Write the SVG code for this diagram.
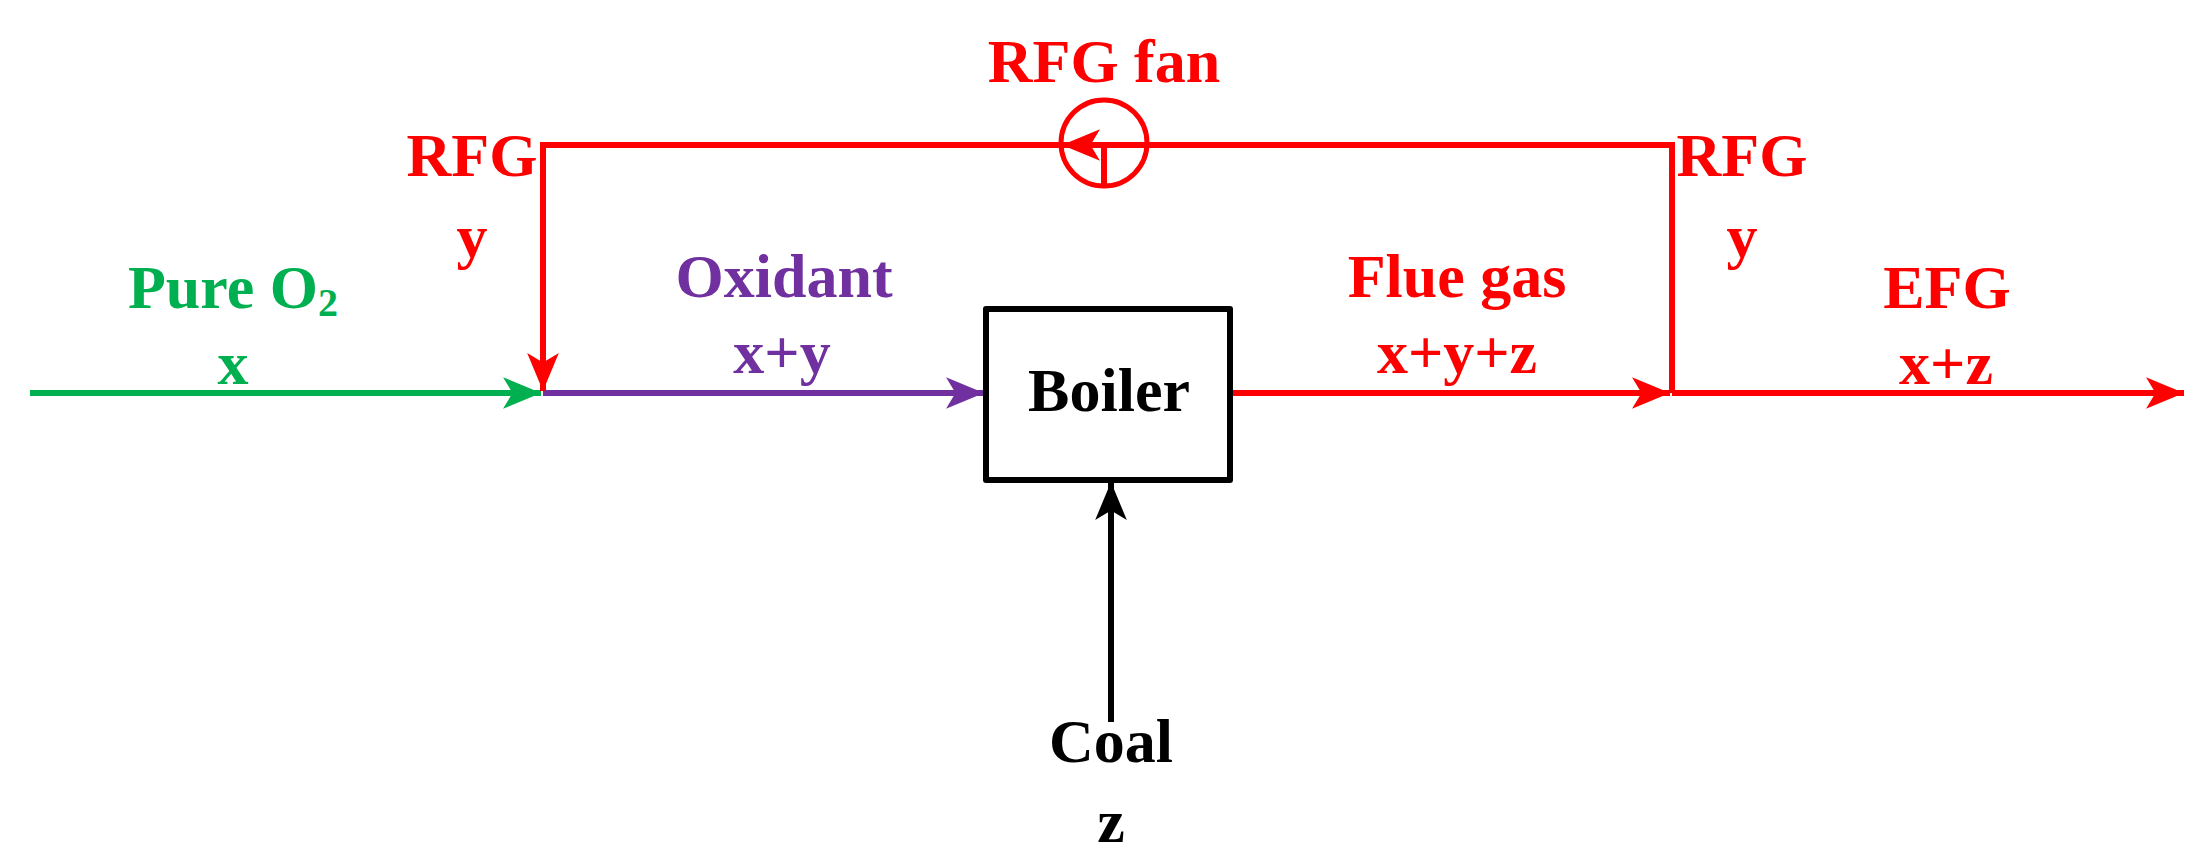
<svg xmlns="http://www.w3.org/2000/svg" width="2200" height="862" viewBox="0 0 2200 862">
<style>
text{font-family:"Liberation Serif","Times New Roman",serif;font-weight:bold;font-size:62px;text-anchor:middle}
.r{fill:#FF0000}.g{fill:#00B050}.p{fill:#7030A0}.k{fill:#000}
line,polyline{stroke-width:6;fill:none}
</style>
<defs>
<marker id="ar" viewBox="0 0 10 10" refX="10" refY="5" markerWidth="6" markerHeight="6" markerUnits="userSpaceOnUse" orient="auto" style="overflow:visible"><path d="M0,0 L10,5 L0,10 Z" fill="#FF0000" transform="scale(1)"/></marker>
<marker id="mr" viewBox="0 0 12 10" refX="12" refY="5" markerWidth="38" markerHeight="32" markerUnits="userSpaceOnUse" orient="auto"><path d="M0,0 L12,5 L0,10 L3,5 Z" fill="#FF0000"/></marker>
<marker id="mg" viewBox="0 0 12 10" refX="12" refY="5" markerWidth="38" markerHeight="32" markerUnits="userSpaceOnUse" orient="auto"><path d="M0,0 L12,5 L0,10 L3,5 Z" fill="#00B050"/></marker>
<marker id="mp" viewBox="0 0 12 10" refX="12" refY="5" markerWidth="38" markerHeight="32" markerUnits="userSpaceOnUse" orient="auto"><path d="M0,0 L12,5 L0,10 L3,5 Z" fill="#7030A0"/></marker>
<marker id="mk" viewBox="0 0 12 10" refX="12" refY="5" markerWidth="38" markerHeight="32" markerUnits="userSpaceOnUse" orient="auto"><path d="M0,0 L12,5 L0,10 L3,5 Z" fill="#000"/></marker>
</defs>
<g id="connectors">
<line x1="30" y1="393" x2="541" y2="393" stroke="#00B050" marker-end="url(#mg)"/>
<line x1="543" y1="393" x2="984" y2="393" stroke="#7030A0" marker-end="url(#mp)"/>
<line x1="1230" y1="393" x2="1670" y2="393" stroke="#FF0000" marker-end="url(#mr)"/>
<line x1="1672" y1="393" x2="2184" y2="393" stroke="#FF0000" marker-end="url(#mr)"/>
<polyline points="1672,393 1672,145 1149,145" stroke="#FF0000"/>
<line x1="1149" y1="145" x2="1062" y2="145" stroke="#FF0000" marker-end="url(#mr)"/>
<polyline points="1059,145 543,145 543,391" stroke="#FF0000" marker-end="url(#mr)"/>
<line x1="1111" y1="722" x2="1111" y2="482" stroke="#000" marker-end="url(#mk)"/>
</g>
<g id="fan">
<circle cx="1104" cy="143" r="43" fill="none" stroke="#FF0000" stroke-width="5"/>
<line x1="1104" y1="145" x2="1104" y2="184" stroke="#FF0000" stroke-width="5"/>
<text class="r" x="1104" y="82">RFG fan</text>
</g>
<g id="boiler">
<rect x="986" y="309" width="244" height="171" fill="#fff" stroke="#000" stroke-width="6" stroke-linejoin="round"/>
<text class="k" x="1109" y="411">Boiler</text>
</g>
<g id="labels">
<text class="r" x="472" y="176">RFG</text>
<text class="r" x="472" y="257">y</text>
<text class="g" x="233" y="308">Pure O<tspan font-size="40" dy="8">2</tspan></text>
<text class="g" x="233" y="384">x</text>
<text class="p" x="784" y="297">Oxidant</text>
<text class="p" x="782" y="373">x+y</text>
<text class="r" x="1742" y="176">RFG</text>
<text class="r" x="1742" y="257">y</text>
<text class="r" x="1457" y="297">Flue gas</text>
<text class="r" x="1457" y="373">x+y+z</text>
<text class="r" x="1947" y="308">EFG</text>
<text class="r" x="1946" y="384">x+z</text>
<text class="k" x="1111" y="762">Coal</text>
<text class="k" x="1111" y="842">z</text>
</g>
</svg>
